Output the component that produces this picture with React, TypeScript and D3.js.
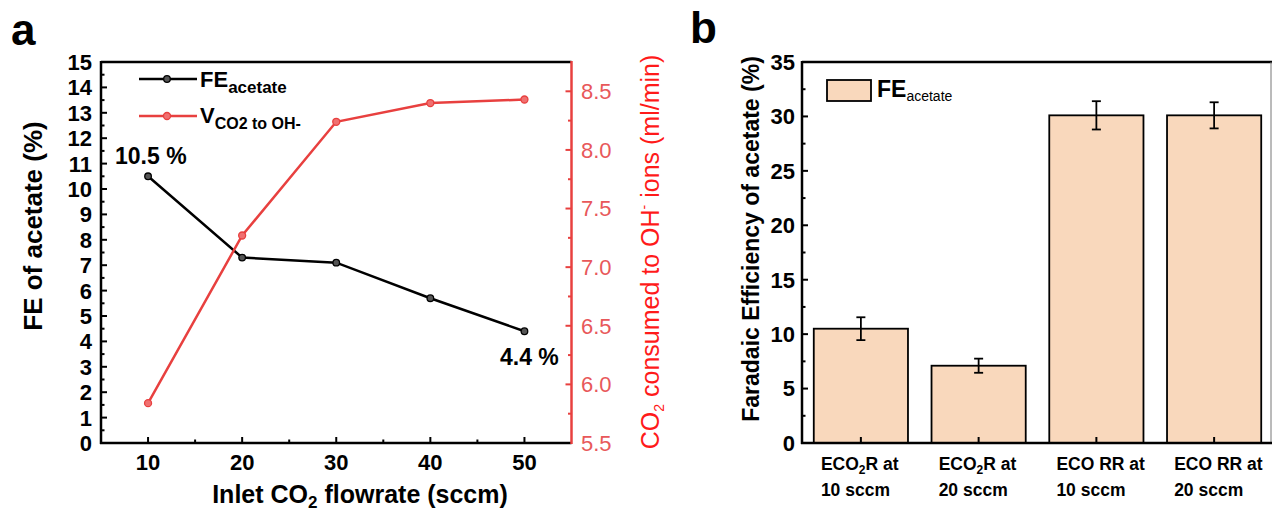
import React from "react";
import * as d3 from "d3";

const flowrates = [10, 20, 30, 40, 50];
const feAcetate = [10.5, 7.3, 7.1, 5.7, 4.4];
const vCO2toOH = [5.84, 7.27, 8.24, 8.4, 8.43];
const leftTicksA = d3.range(0, 16, 1);
const rightTicksA = [5.5, 6.0, 6.5, 7.0, 7.5, 8.0, 8.5];
const xTicksA = [10, 20, 30, 40, 50];

const barCats = ["c1", "c2", "c3", "c4"];
const barLine1 = ["ECO|2|R at", "ECO|2|R at", "ECO RR at", "ECO RR at"];
const barLine2 = ["10 sccm", "20 sccm", "10 sccm", "20 sccm"];
const barValues = [10.5, 7.1, 30.1, 30.1];
const barErrors = [1.05, 0.65, 1.3, 1.2];
const yTicksB = [0, 5, 10, 15, 20, 25, 30, 35];

const FONT = "Arial, 'Liberation Sans', sans-serif";
const RED = "#e8403f";
const RED_TXT = "#e8585a";
const BAR_FILL = "#f9d8bc";

export default function App() {
  // Panel a scales
  const xA = d3.scaleLinear().domain([5, 55]).range([101, 571.5]);
  const yA = d3.scaleLinear().domain([0, 15]).range([443, 62]);
  const yA2 = d3.scaleLinear().domain([5.5, 8.75]).range([443, 62]);
  const blackLine = d3
    .line<number>()
    .x((_, i) => xA(flowrates[i]))
    .y((d) => yA(d));
  const redLine = d3
    .line<number>()
    .x((_, i) => xA(flowrates[i]))
    .y((d) => yA2(d));

  const minorLeftA = d3.range(0.5, 15, 1);
  const minorRightA = d3.range(5.75, 8.75, 0.5);
  const minorXA = [15, 25, 35, 45];

  // Panel b scales
  const xB = d3
    .scaleBand<string>()
    .domain(barCats)
    .range([802, 1273])
    .paddingInner(0.2)
    .paddingOuter(0.1);
  const yB = d3.scaleLinear().domain([0, 35]).range([443, 62]);
  const minorB = d3.range(2.5, 35, 5);

  const [ax0, ax1] = xA.range();
  const [ay0, ay1] = yA.range();
  const bx0 = xB.range()[0];

  return (
    <svg width={1272} height={513} style={{ display: "block", position: "absolute", left: 0, top: 0 }} fontFamily={FONT}>
      <rect x={0} y={0} width={1272} height={513} fill="#fff" />
      {/* ---------- Panel a ---------- */}
      <text x={11} y={45} fontSize={44} fontWeight="bold">a</text>

      {/* left ticks */}
      {leftTicksA.map((t) => (
        <g key={"la" + t}>
          <line x1={ax0} x2={ax0 + 6} y1={yA(t)} y2={yA(t)} stroke="#000" strokeWidth={2} />
          <text x={92} y={yA(t)} dy="0.36em" textAnchor="end" fontSize={22} fontWeight="bold">{t}</text>
        </g>
      ))}
      {minorLeftA.map((t) => (
        <line key={"lma" + t} x1={ax0} x2={ax0 + 3.5} y1={yA(t)} y2={yA(t)} stroke="#000" strokeWidth={2} />
      ))}
      {/* x ticks */}
      {xTicksA.map((t) => (
        <g key={"xa" + t}>
          <line x1={xA(t)} x2={xA(t)} y1={ay0} y2={ay0 - 6} stroke="#000" strokeWidth={2} />
          <text x={xA(t)} y={470} textAnchor="middle" fontSize={22} fontWeight="bold">{t}</text>
        </g>
      ))}
      {minorXA.map((t) => (
        <line key={"xma" + t} x1={xA(t)} x2={xA(t)} y1={ay0} y2={ay0 - 3.5} stroke="#000" strokeWidth={2} />
      ))}
      {/* right ticks */}
      {rightTicksA.map((t) => (
        <g key={"ra" + t}>
          <line x1={ax1} x2={ax1 - 6} y1={yA2(t)} y2={yA2(t)} stroke={RED} strokeWidth={2} />
          <text x={581} y={yA2(t)} dy="0.36em" textAnchor="start" fontSize={22} fill={RED_TXT}>{t.toFixed(1)}</text>
        </g>
      ))}
      {minorRightA.map((t) => (
        <line key={"rma" + t} x1={ax1} x2={ax1 - 3.5} y1={yA2(t)} y2={yA2(t)} stroke={RED} strokeWidth={2} />
      ))}

      {/* frame */}
      <line x1={ax0} x2={ax1} y1={ay1} y2={ay1} stroke="#000" strokeWidth={2.5} />
      <line x1={ax0} x2={ax0} y1={ay1 - 1} y2={ay0 + 1} stroke="#000" strokeWidth={2.5} />
      <line x1={ax0 - 1} x2={ax1} y1={ay0} y2={ay0} stroke="#000" strokeWidth={2.5} />
      <line x1={ax1} x2={ax1} y1={ay1 - 1} y2={ay0 + 1} stroke={RED} strokeWidth={2.5} />

      {/* data */}
      <path d={blackLine(feAcetate) || ""} fill="none" stroke="#000" strokeWidth={2.5} />
      <path d={redLine(vCO2toOH) || ""} fill="none" stroke={RED} strokeWidth={2.5} />
      {feAcetate.map((v, i) => (
        <circle key={"bm" + i} cx={xA(flowrates[i])} cy={yA(v)} r={3.3} fill="#555" stroke="#000" strokeWidth={1.3} />
      ))}
      {vCO2toOH.map((v, i) => (
        <circle key={"rm" + i} cx={xA(flowrates[i])} cy={yA2(v)} r={3.5} fill="#f07070" stroke={RED} strokeWidth={1.3} />
      ))}

      {/* annotations */}
      <text x={115} y={164} fontSize={23} fontWeight="bold">10.5 %</text>
      <text x={500} y={365} fontSize={23} fontWeight="bold">4.4 %</text>

      {/* legend a */}
      <line x1={139} x2={197} y1={79} y2={79} stroke="#000" strokeWidth={2.5} />
      <circle cx={167} cy={79} r={3.3} fill="#555" stroke="#000" strokeWidth={1.3} />
      <text x={200} y={87} fontSize={22} fontWeight="bold">
        FE<tspan fontSize={17} dy={6}>acetate</tspan>
      </text>
      <line x1={139} x2={197} y1={116} y2={116} stroke={RED} strokeWidth={2.5} />
      <circle cx={167} cy={116} r={3.5} fill="#f07070" stroke={RED} strokeWidth={1.3} />
      <text x={200} y={123} fontSize={22} fontWeight="bold">
        V<tspan fontSize={16} dy={6}>CO2 to OH-</tspan>
      </text>

      {/* axis titles a */}
      <text transform={`translate(42,226) rotate(-90)`} textAnchor="middle" fontSize={26} fontWeight="bold">
        FE of acetate (%)
      </text>
      <text x={360} y={503} textAnchor="middle" fontSize={25} fontWeight="bold">
        Inlet CO<tspan fontSize={17} dy={5}>2</tspan>
        <tspan dy={-5}> flowrate (sccm)</tspan>
      </text>
      <text transform={`translate(659,252) rotate(-90)`} textAnchor="middle" fontSize={25} fill="#ff1a1a">
        CO<tspan fontSize={14} dy={5}>2</tspan>
        <tspan dy={-5}> consumed to OH</tspan>
        <tspan fontSize={14} dy={-10}>-</tspan>
        <tspan dy={10}> ions (ml/min)</tspan>
      </text>

      {/* ---------- Panel b ---------- */}
      <text x={690} y={43} fontSize={44} fontWeight="bold">b</text>

      {/* bars */}
      {barCats.map((c, i) => {
        const x = xB(c) as number;
        const cx = x + xB.bandwidth() / 2;
        return (
          <g key={"bar" + c}>
            <rect x={x} y={yB(barValues[i])} width={xB.bandwidth()} height={yB(0) - yB(barValues[i])} fill={BAR_FILL} stroke="#000" strokeWidth={1.8} />
            <line x1={cx} x2={cx} y1={yB(barValues[i] + barErrors[i])} y2={yB(barValues[i] - barErrors[i])} stroke="#000" strokeWidth={1.8} />
            <line x1={cx - 4.5} x2={cx + 4.5} y1={yB(barValues[i] + barErrors[i])} y2={yB(barValues[i] + barErrors[i])} stroke="#000" strokeWidth={1.8} />
            <line x1={cx - 4.5} x2={cx + 4.5} y1={yB(barValues[i] - barErrors[i])} y2={yB(barValues[i] - barErrors[i])} stroke="#000" strokeWidth={1.8} />
            <line x1={cx} x2={cx} y1={yB(0)} y2={yB(0) - 6} stroke="#000" strokeWidth={2} />
          </g>
        );
      })}

      {/* y ticks b */}
      {yTicksB.map((t) => (
        <g key={"yb" + t}>
          <line x1={bx0} x2={bx0 + 6} y1={yB(t)} y2={yB(t)} stroke="#000" strokeWidth={2} />
          <text x={795} y={yB(t)} dy="0.36em" textAnchor="end" fontSize={22} fontWeight="bold">{t}</text>
        </g>
      ))}
      {minorB.map((t) => (
        <line key={"ybm" + t} x1={bx0} x2={bx0 + 3.5} y1={yB(t)} y2={yB(t)} stroke="#000" strokeWidth={2} />
      ))}

      {/* x labels b */}
      {barCats.map((c, i) => {
        const cx = (xB(c) as number) + xB.bandwidth() / 2;
        const parts = barLine1[i].split("|");
        const left = cx - 40;
        return (
          <g key={"xl" + c}>
            <text x={left} y={470} fontSize={17.5} fontWeight="bold">
              {parts.length === 3 ? (
                <>
                  {parts[0]}
                  <tspan fontSize={12} dy={4}>{parts[1]}</tspan>
                  <tspan dy={-4}>{parts[2]}</tspan>
                </>
              ) : (
                parts[0]
              )}
            </text>
            <text x={left} y={496} fontSize={17.5} fontWeight="bold">{barLine2[i]}</text>
          </g>
        );
      })}

      {/* frame b */}
      <line x1={bx0} x2={1272} y1={62} y2={62} stroke="#000" strokeWidth={2.5} />
      <line x1={1271} x2={1271} y1={62} y2={443} stroke="#777" strokeWidth={1} />
      <line x1={bx0} x2={bx0} y1={61} y2={444} stroke="#000" strokeWidth={2.5} />
      <line x1={bx0 - 1} x2={1272} y1={443} y2={443} stroke="#000" strokeWidth={2.5} />

      {/* legend b */}
      <rect x={827} y={80} width={44} height={21} fill={BAR_FILL} stroke="#000" strokeWidth={1.8} />
      <text x={877} y={97} fontSize={23} fontWeight="bold">
        FE<tspan fontSize={14} fontWeight="normal" dy={4}>acetate</tspan>
      </text>

      {/* y title b */}
      <text transform={`translate(759,239) rotate(-90)`} textAnchor="middle" fontSize={23} fontWeight="bold">
        Faradaic Efficiency of acetate (%)
      </text>
    </svg>
  );
}
